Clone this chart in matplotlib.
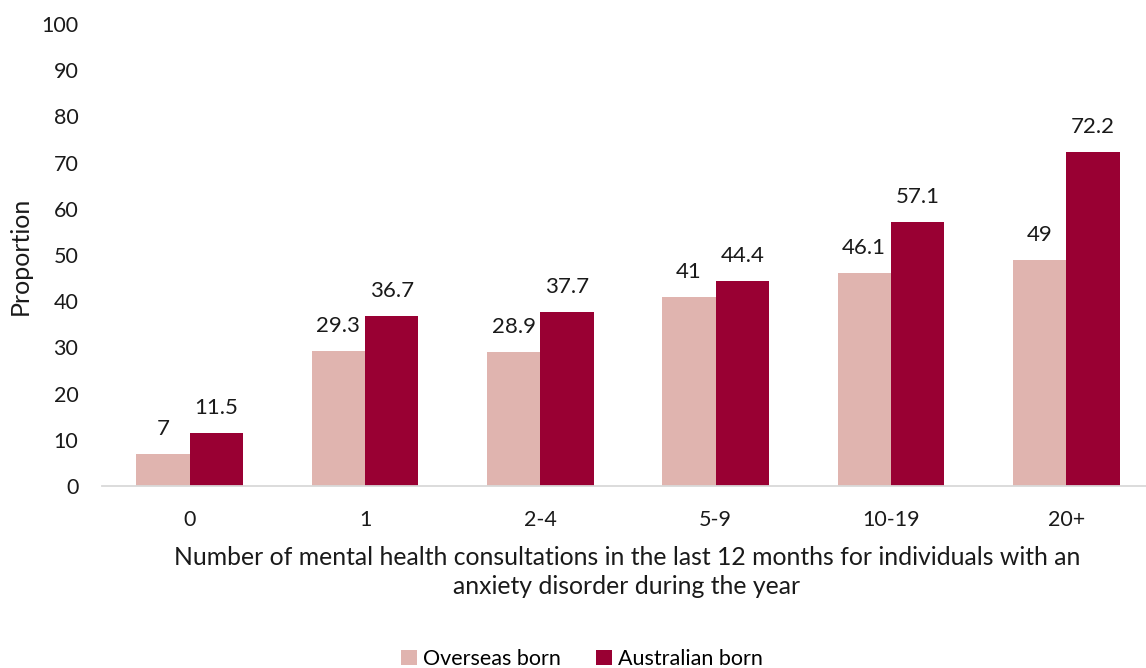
import matplotlib.pyplot as plt
import numpy as np

plt.rcParams['font.family'] = ['Lato', 'DejaVu Sans']

categories = ['0', '1', '2-4', '5-9', '10-19', '20+']
overseas_born = [7, 29.3, 28.9, 41, 46.1, 49]
australian_born = [11.5, 36.7, 37.7, 44.4, 57.1, 72.2]
value_labels_overseas = ['7', '29.3', '28.9', '41', '46.1', '49']
value_labels_australian = ['11.5', '36.7', '37.7', '44.4', '57.1', '72.2']

c_over = '#E0B4AF'
c_aus = '#990033'
txt = '#1a1a1a'

fig = plt.figure(figsize=(11.46, 6.68), dpi=100)
ax = fig.add_axes([102 / 1146, 182 / 668, 1044 / 1146, 462 / 668])

x = np.arange(len(categories))
w = 0.305
b1 = ax.bar(x - w / 2, overseas_born, w, color=c_over, label='Overseas born')
b2 = ax.bar(x + w / 2, australian_born, w, color=c_aus, label='Australian born')

for bars, labels in ((b1, value_labels_overseas), (b2, value_labels_australian)):
    for bar, lab in zip(bars, labels):
        ax.annotate(lab, (bar.get_x() + bar.get_width() / 2, bar.get_height()),
                    xytext=(0, 18), textcoords='offset points',
                    ha='center', va='center', fontsize=16, color=txt)

ax.set_xlim(-0.5, 5.5 - 8 / 175.4)
ax.set_ylim(0, 100)
ax.set_yticks(np.arange(0, 101, 10))
ax.set_xticks(x)
ax.set_xticklabels(categories)
ax.tick_params(axis='both', length=0, labelsize=15.5, labelcolor=txt)
ax.tick_params(axis='y', pad=17)
ax.tick_params(axis='x', pad=17)

for s in ('top', 'right', 'left'):
    ax.spines[s].set_visible(False)
ax.spines['bottom'].set_color('#D9D9D9')
ax.spines['bottom'].set_linewidth(1.3)

fig.text(20 / 1146, 1 - 256 / 668, 'Proportion', rotation=90, ha='center', va='center',
         fontsize=18, color=txt)
fig.text(627 / 1146, 1 - 572 / 668,
         'Number of mental health consultations in the last 12 months for individuals with an\nanxiety disorder during the year',
         ha='center', va='center', fontsize=17.8, color=txt, linespacing=1.35)

fig.legend(handles=[b1, b2], loc='center', bbox_to_anchor=(582 / 1146, 1 - 659 / 668),
           ncol=2, frameon=False, fontsize=15.5, handlelength=0.75, handleheight=0.75,
           columnspacing=1.6, handletextpad=0.3)

fig.savefig('out.png', dpi=100)
